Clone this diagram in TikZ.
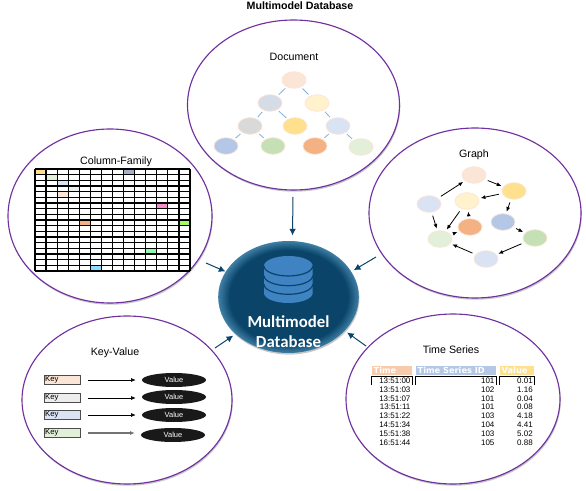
\documentclass[tikz,border=0pt]{standalone}
\usepackage{fontspec}
\setmainfont{Liberation Sans}
\newfontfamily\dbfont{Carlito}
\newfontfamily\headfont{DejaVu Sans}
\usetikzlibrary{arrows.meta, shapes.geometric, shadows}
\definecolor{ringpurple}{HTML}{7030A0}
\definecolor{dbblue}{HTML}{0A4468}
\definecolor{dbrim}{HTML}{3F7FA6}
\definecolor{iconblue}{HTML}{3F83C3}
\definecolor{linkblue}{HTML}{7FB2DE}
\definecolor{peach}{HTML}{FBE5D6}
\definecolor{cream}{HTML}{FFF2CC}
\definecolor{gold}{HTML}{FFE08C}
\definecolor{slate}{HTML}{D6DCE5}
\definecolor{silver}{HTML}{D9D9D9}
\definecolor{paleblue}{HTML}{DAE3F3}
\definecolor{midblue}{HTML}{B4C7E7}
\definecolor{leaf}{HTML}{C5E0B4}
\definecolor{paleleaf}{HTML}{E2F0D9}
\definecolor{amber}{HTML}{F4B183}
\definecolor{pale}{HTML}{EDEDED}
\definecolor{salmon}{HTML}{F8CBAD}
\pgfdeclareradialshading{dbshade}{\pgfpoint{0bp}{0bp}}{color(0bp)=(dbblue); color(21bp)=(dbblue); color(25bp)=(dbrim); color(50bp)=(dbrim)}
\tikzset{
  model/.style={ellipse, draw=ringpurple, line width=0.85pt, fill=white, inner sep=0pt,
    minimum width=2*#1*0.75pt,
    drop shadow={shadow xshift=0.6pt, shadow yshift=-1.3pt, opacity=0.22, fill=black}},
  blob/.style={ellipse, draw=peach, line width=0.5pt, inner sep=0pt, minimum width=18pt, minimum height=12.5pt},
  title/.style={font=\fontsize{8}{10}\selectfont, inner sep=0pt},
  keybox/.style={draw=black!70, line width=0.8pt, inner sep=0pt, minimum width=27.5pt, minimum height=7pt,
    font=\fontsize{5.8}{7}\selectfont, text width=26pt},
  valuebox/.style={ellipse, fill=black!90, inner sep=0pt, minimum width=48pt, minimum height=10.5pt,
    text=white, font=\fontsize{5.6}{7}\selectfont},
  rowtext/.style={anchor=east, inner sep=0pt, font=\fontsize{6}{7}\selectfont},
  headbox/.style={anchor=north west, inner sep=0pt, minimum height=6.8pt, text=white,
    font=\headfont\bfseries\fontsize{6.2}{7}\selectfont, align=left},
  >={Latex[length=3.5pt,width=3pt]}
}
\begin{document}
\begin{tikzpicture}[x=0.75pt,y=-0.75pt]
  \useasboundingbox (0,0) rectangle (586,491);
  \node[font=\bfseries\fontsize{8}{10}\selectfont, inner sep=0pt] (head) at (300,6) {Multimodel Database};

  % the five rings
  \node[model=102, minimum height=130.5pt] (col) at (110,216) {};
  \node[model=106, minimum height=127.5pt] (graph) at (475,213) {};
  \node[model=106, minimum height=127.5pt] (doc) at (293.5,105) {};
  \node[model=105, minimum height=126pt] (kv) at (127,400) {};
  \node[model=107, minimum height=127.5pt] (ts) at (453,399) {};

  % document tree
  \node[title] (doctitle) at (294,57) {Document};
  \node[blob, fill=peach] (d0) at (294,80) {};
  \node[blob, fill=slate] (d1) at (270,103) {};
  \node[blob, fill=cream] (d2) at (317,103) {};
  \node[blob, fill=silver] (d3) at (250,126) {};
  \node[blob, fill=gold] (d4) at (295,126) {};
  \node[blob, fill=paleblue] (d5) at (338,126) {};
  \node[blob, fill=midblue] (d6) at (226,146) {};
  \node[blob, fill=leaf] (d7) at (273,146) {};
  \node[blob, fill=amber] (d8) at (315,146) {};
  \node[blob, fill=paleleaf] (d9) at (361,147) {};
  \foreach \a/\b in {d0/d1, d0/d2, d1/d3, d1/d4, d2/d5, d3/d6, d3/d7, d5/d8, d5/d9}
    \draw[linkblue, line width=0.6pt, shorten >=1.5pt, shorten <=1.5pt] (\a) -- (\b);

  % column family grid
  \node[title] (coltitle) at (116,162) {Column-Family};
  \foreach \c/\r/\shade in {0/0/gold, 1/1/paleleaf, 2/2/paleblue, 3/3/pale, 2/4/peach,
      8/0/midblue!70!gray, 11/6/magenta!45, 4/9/amber, 13/9/green!60!yellow!60,
      10/14/green!70!cyan!45, 5/17/blue!30!cyan!45}
    \fill[\shade] (35+\c*11.07,169+\r*5.67) rectangle (35+\c*11.07+11.07,169+\r*5.67+5.67);
  \foreach \c in {0,...,14}
    \draw[line width=0.9pt] (35+\c*11.07,169) -- (35+\c*11.07,271);
  \foreach \r in {0,...,18}
    \draw[line width=0.9pt] (35,169+\r*5.67) -- (190,169+\r*5.67);

  % graph
  \node[title] (graphtitle) at (474,155) {Graph};
  \node[blob, fill=peach] (g0) at (474,175) {};
  \node[blob, fill=gold] (g1) at (514,191) {};
  \node[blob, fill=paleblue] (g2) at (429,204) {};
  \node[blob, fill=cream] (g3) at (467,201) {};
  \node[blob, fill=midblue] (g4) at (503,222) {};
  \node[blob, fill=amber] (g5) at (470,227) {};
  \node[blob, fill=paleleaf] (g6) at (440,239) {};
  \node[blob, fill=leaf] (g7) at (535,238) {};
  \node[blob, fill=paleblue] (g8) at (486,259) {};
  \foreach \a/\b in {g0/g1, g1/g3, g2/g0, g1/g4, g4/g7, g7/g8, g8/g6, g2/g6, g3/g6, g6/g5, g5/g3}
    \draw[->, line width=0.6pt, shorten >=1.5pt, shorten <=2.5pt] (\a) -- (\b);

  % key-value
  \node[title] (kvtitle) at (115,353) {Key-Value};
  \node[keybox, fill=peach] (k1) at (62.5,380) {Key};
  \node[keybox, fill=pale] (k2) at (62.5,398) {Key};
  \node[keybox, fill=paleblue] (k3) at (62.5,415) {Key};
  \node[keybox, fill=paleleaf] (k4) at (62.5,433) {Key};
  \node[valuebox] (v1) at (174,380) {Value};
  \node[valuebox] (v2) at (174,397) {Value};
  \node[valuebox] (v3) at (174,415) {Value};
  \node[valuebox] (v4) at (173,435) {Value};
  \foreach \i in {1,2,3}
    \draw[->, line width=0.5pt, shorten >=4.5pt, shorten <=5pt] (k\i.east) -- (k\i.east -| v\i.west);
  \draw[->, black!55, line width=0.9pt, shorten >=4.5pt, shorten <=5pt] (k4.east) -- (k4.east -| v4.west);

  % time series table
  \node[title] (tstitle) at (451,350) {Time Series};
  \node[headbox, fill=salmon, minimum width=29.5pt, text width=29.5pt] (h1) at (372,366) {\,Time};
  \node[headbox, fill=midblue, minimum width=59.5pt, text width=59.5pt] (h2) at (416,366) {\,Time Series ID};
  \node[headbox, fill=gold, minimum width=25.5pt, text width=25.5pt] (h3) at (500,366) {\,Value};
  \draw[line width=0.8pt] (371.5,385) -- (371.5,376.5) -- (412.5,376.5) -- (412.5,385);
  \draw[line width=0.8pt] (415.5,385) -- (415.5,376.5) -- (496.5,376.5) -- (496.5,385);
  \draw[line width=0.8pt] (499.5,385) -- (499.5,376.5) -- (534.5,376.5) -- (534.5,385);
  \foreach \i/\y/\t/\s/\v in {1/380.3/13:51:00/101/0.01, 2/389.3/13:51:03/102/1.16,
      3/398.3/13:51:07/101/0.04, 4/406.3/13:51:11/101/0.08, 5/415.3/13:51:22/103/4.18,
      6/424.3/14:51:34/104/4.41, 7/433.3/15:51:38/103/5.02, 8/442.3/16:51:44/105/0.88} {
    \node[rowtext] (t\i) at (410.7,\y) {\t};
    \node[rowtext] (s\i) at (494.7,\y) {\s};
    \node[rowtext] (n\i) at (533,\y) {\v};
  }

  % central database
  \node[ellipse, inner sep=0pt, minimum width=105.5pt, minimum height=84pt, shading=dbshade,
    drop shadow={shadow xshift=0.5pt, shadow yshift=-1.2pt, opacity=0.22, fill=black}] (db) at (288.5,297) {};
  \fill[iconblue] (264,266) -- (264,293) arc[start angle=180, end angle=0, x radius=24.35, y radius=10]
    -- (312.7,266) arc[start angle=0, end angle=-180, x radius=24.35, y radius=10] -- cycle;
  \foreach \y in {266,275.7,284.3}
    \draw[dbblue, line width=0.9pt] (264,\y) arc[start angle=180, end angle=0, x radius=24.35, y radius=10];
  \node[font=\dbfont\bfseries\fontsize{12.6}{15}\selectfont, text=white, inner sep=0pt, align=center] (dblabel) at (288.5,331.5) {Multimodel\\[0.5pt]Database};

  % links into the database
  \coordinate (fromdoc) at (293,197);
  \coordinate (fromcol) at (206,263);
  \coordinate (fromgraph) at (376,257);
  \coordinate (fromkv) at (215,348);
  \coordinate (fromts) at (366,346);
  \tikzset{intodb/.style={->, draw=dbblue, line width=0.75pt, >={Latex[length=5pt,width=5pt]}}}
  \draw[intodb, shorten >=4pt] (fromdoc) -- (db.86);
  \draw[intodb] (fromcol) -- (db.158);
  \draw[intodb, shorten >=2pt] (fromgraph) -- (db.22);
  \draw[intodb, shorten >=2pt] (fromkv) -- (db.215);
  \draw[intodb, shorten >=2pt] (fromts) -- (db.-31);
\end{tikzpicture}
\end{document}
